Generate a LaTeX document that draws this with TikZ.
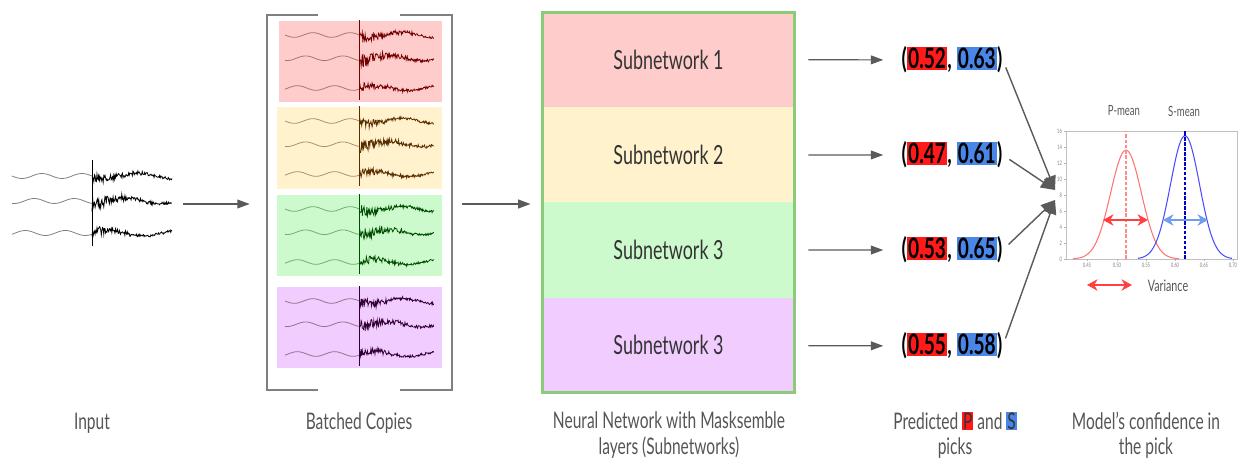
\documentclass[tikz,border=0pt]{standalone}
\usepackage{fontspec}
\setmainfont{Lato}[FakeStretch=0.68]
\usepackage{xcolor}
\usetikzlibrary{arrows.meta, positioning, calc}

\definecolor{subred}{HTML}{FFCCCC}
\definecolor{subyellow}{HTML}{FFF2CC}
\definecolor{subgreen}{HTML}{CCFACC}
\definecolor{subpurple}{HTML}{F1CCFF}
\definecolor{netgreen}{HTML}{8CCB7A}
\definecolor{pickred}{HTML}{FF1A1A}
\definecolor{pickblue}{HTML}{4A86E8}
\definecolor{arrowgray}{HTML}{5A5A5A}
\definecolor{labelgray}{HTML}{555555}

\tikzset{
    arr/.style={-{Triangle[length=7pt, width=5pt]}, arrowgray, line width=0.7pt},
    convarr/.style={-{Triangle[length=8pt, width=7pt]}, arrowgray, line width=0.8pt},
    stripe/.style={minimum width=5.06cm, minimum height=1.905cm, inner sep=0pt,
        font=\fontsize{15}{18}\selectfont, text=black!80},
    pickbox/.style={inner sep=0pt, font=\fontsize{16}{19}\selectfont\bfseries},
    caption/.style={align=center, text=labelgray, font=\fontsize{13}{14.5}\selectfont},
    bracket/.style={gray, line width=1pt},
    spread/.style={{Stealth[length=6pt, width=6.5pt]}-{Stealth[length=6pt, width=6.5pt]}, line width=1.1pt},
}

% three seismic traces: #1 quiet part, #2 event part
\newcommand{\seismo}[2]{%
    \foreach \dy/\ph/\amp in {0/0/6, 25/70/8, 57/150/5} {
        \draw[#1, line width=0.45pt] plot[domain=0:80, samples=40, smooth] (\x, {\dy + 2.5*sin(9*\x+\ph)});
        \draw[#2, line width=0.45pt] plot[domain=80:160, samples=130]
            (\x, {\dy + \amp*rand*exp(-(\x-80)/32) + 1.1*rand + 2.8*sin(5*\x+\ph)});
    }
    \draw[#2, line width=0.5pt] (80,-16) -- (80,70);
}

\newcommand{\pick}[2]{(\colorbox{pickred}{#1}, \colorbox{pickblue}{#2})}

\begin{document}
\begin{tikzpicture}[x=0.02cm, y=-0.02cm]
    \useasboundingbox (0,0) rectangle (1241,459);
    \setlength{\fboxsep}{0.8pt}
    \pgfmathsetseed{42}

    % Input
    \node (input) [minimum width=3.2cm, minimum height=1.8cm] at (92,204) {};
    \begin{scope}[shift={(12,176)}]
        \seismo{gray}{black}
    \end{scope}

    % Batched copies
    \node (batch) [minimum width=3.7cm, minimum height=7.5cm, inner sep=0pt] at (359.5,202.5) {};
    \draw[bracket] ($(batch.north west)+(51,0)$) -- (batch.north west) -- (batch.south west) -- ++(51,0);
    \draw[bracket] ($(batch.north east)+(-52,0)$) -- (batch.north east) -- (batch.south east) -- ++(-52,0);

    \foreach \c/\q/\e/\xa/\ya/\yb in {subred/red!40!black!55/red!45!black/279/21/102,
                                     subyellow/orange!40!black!55/orange!35!black/277/107/189,
                                     subgreen/green!40!black!55/green!30!black/277/195/276,
                                     subpurple/violet!40!black!55/violet!40!black/277/287/368} {
        \fill[\c] (\xa,\ya) rectangle (442,\yb);
        \begin{scope}[shift={(285,\ya+14)}, xscale=0.93, yscale=0.93]
            \seismo{\q}{\e}
        \end{scope}
    }

    % Network with subnetworks
    \node (sub1) [stripe, fill=subred]    at (668.5,59.6)  {Subnetwork 1};
    \node (sub2) [stripe, fill=subyellow] at (668.5,154.9) {Subnetwork 2};
    \node (sub3) [stripe, fill=subgreen]  at (668.5,250.1) {Subnetwork 3};
    \node (sub4) [stripe, fill=subpurple] at (668.5,345.4) {Subnetwork 3};
    \node (net) [draw=netgreen, line width=1.7pt, minimum width=5.06cm, minimum height=7.62cm] at (668.5,202.5) {};

    \draw[arr, shorten <=0.22cm, shorten >=0.34cm] (input.east) -- (batch.west |- input.east);
    \draw[arr, shorten <=0.2cm, shorten >=0.2cm] (batch.east |- input.east) -- (net.west |- input.east);

    % Predicted picks
    \node (t1) [pickbox] at (952,60)  {\pick{0.52}{0.63}};
    \node (t2) [pickbox] at (952,155) {\pick{0.47}{0.61}};
    \node (t3) [pickbox] at (952,250) {\pick{0.53}{0.65}};
    \node (t4) [pickbox] at (952,346) {\pick{0.55}{0.58}};

    \foreach \i in {1,...,4}
        \draw[arr, shorten <=0.26cm, shorten >=0.36cm] (sub\i) -- (t\i);

    \coordinate (conv1) at (1055,190);
    \coordinate (conv2) at (1055,200);
    \draw[convarr, shorten <=0.16cm] (t1.east) -- (conv1);
    \draw[convarr, shorten <=0.16cm] (t2.east) -- (conv1);
    \draw[convarr, shorten <=0.16cm] (t3.east) -- (conv2);
    \draw[convarr, shorten <=0.16cm] (t4.east) -- (conv2);

    % Confidence plot
    \draw[gray!50, line width=0.4pt] (1066,131) rectangle (1237,259);
    \foreach \v in {0,2,...,16} {
        \draw[gray!60, line width=0.3pt] (1066,259-8*\v) -- ++(-2,0)
            node[left, inner sep=1pt, text=gray, font=\fontsize{3.5}{4}\selectfont] {\v};
    }
    \foreach \xv/\l in {1087/0.45, 1117/0.50, 1146/0.55, 1175/0.60, 1204/0.65, 1233/0.70} {
        \draw[gray!60, line width=0.3pt] (\xv,259) -- ++(0,2)
            node[below, inner sep=1pt, text=gray, font=\fontsize{3.5}{4}\selectfont] {\l};
    }
    \draw[red!55, line width=0.6pt] plot[domain=1073:1179, samples=90, smooth]
        (\x, {259 - 8*13.6*exp(-((\x-1126)*(\x-1126))/(2*15.4*15.4))});
    \draw[blue!70, line width=0.6pt] plot[domain=1138:1232, samples=90, smooth]
        (\x, {259 - 8*15.4*exp(-((\x-1185)*(\x-1185))/(2*14.5*14.5))});
    \draw[red!45, dash pattern=on 2pt off 1pt, line width=0.9pt] (1126,259) -- (1126,131);
    \draw[blue!80!black, dash pattern=on 2pt off 0.8pt, line width=0.7pt] (1185,259) -- (1185,131);
    \draw[spread, red!75] (1103,220) -- (1148,220);
    \draw[spread, pickblue!80] (1163,220) -- (1208,220);
    \node (pmean) [text=labelgray, font=\fontsize{8}{9}\selectfont] at (1124,111) {P-mean};
    \node (smean) [text=labelgray, font=\fontsize{8}{9}\selectfont] at (1184,111) {S-mean};
    \node (variance) [text=labelgray, font=\fontsize{9}{10}\selectfont] at (1168,286) {Variance};
    \draw[spread, red!75] (1087,285) -- (1132,285);

    % Captions
    \node[caption] at (92,423) {Input};
    \node[caption] at (359,423) {Batched Copies};
    \node[caption] at (669,435) {Neural Network with Masksemble\\layers (Subnetworks)};
    \node[caption] at (955,435) {Predicted {\setlength{\fboxsep}{0.5pt}\colorbox{pickred}{\color{black!80}P}} and {\setlength{\fboxsep}{0.5pt}\colorbox{pickblue}{\color{black!80}S}}\\picks};
    \node[caption] at (1146,435) {Model’s confidence in\\the pick};
\end{tikzpicture}
\end{document}
